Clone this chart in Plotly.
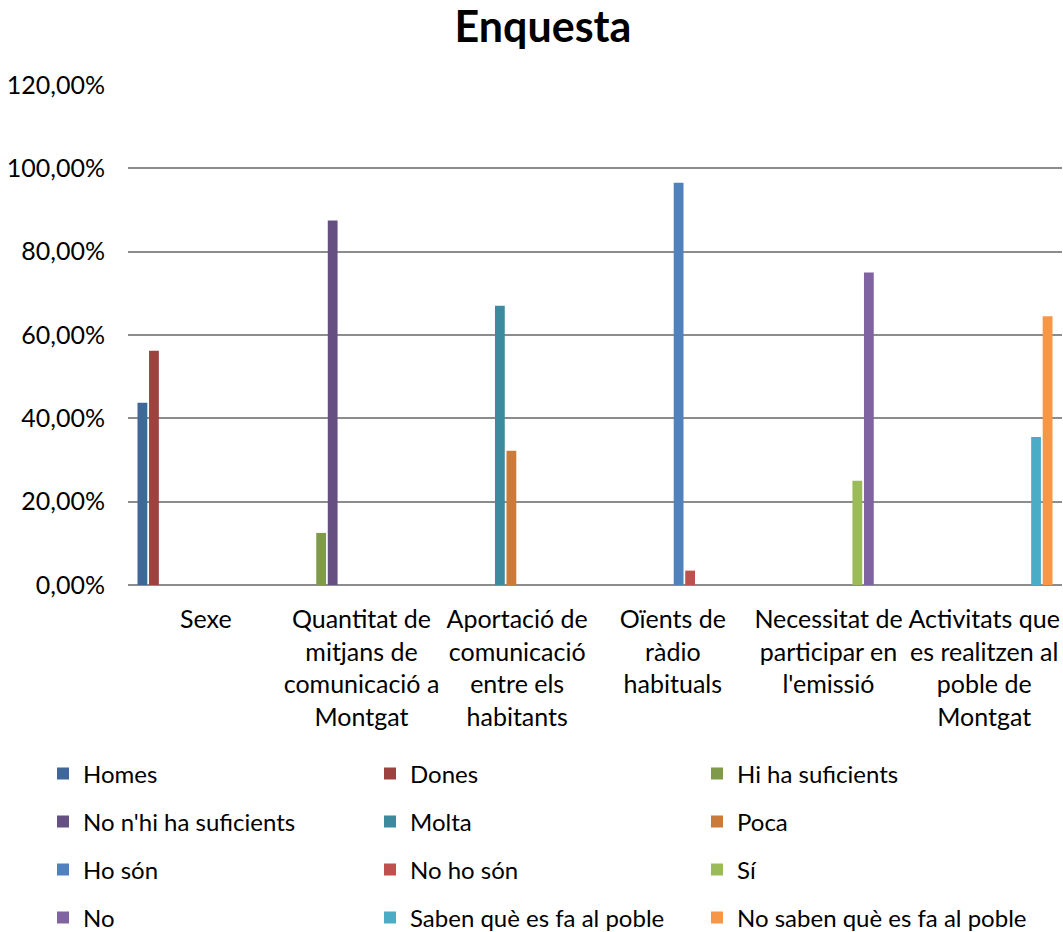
import plotly.graph_objects as go

categories = ["Sexe",
              "Quantitat de<br>mitjans de<br>comunicació a<br>Montgat",
              "Aportació de<br>comunicació<br>entre els<br>habitants",
              "Oïents de<br>ràdio<br>habituals",
              "Necessitat de<br>participar en<br>l'emissió",
              "Activitats que<br>es realitzen al<br>poble de<br>Montgat"]

series_names = ["Homes", "Dones", "Hi ha suficients", "No n'hi ha suficients",
                "Molta", "Poca", "Ho són", "No ho són", "Sí", "No",
                "Saben què es fa al poble", "No saben què es fa al poble"]

# value of each series, and which category it belongs to
series_values = [0.4375, 0.5625, 0.125, 0.875, 0.67, 0.322, 0.9655, 0.0345,
                 0.25, 0.75, 0.355, 0.645]
series_category = [0, 0, 1, 1, 2, 2, 3, 3, 4, 4, 5, 5]

colors = ["#3F6797", "#9D423F", "#7F9A48", "#665082", "#3C8A9E", "#CB7B39",
          "#4F81BD", "#C0504D", "#9BBB59", "#8064A2", "#4BACC6", "#F79646"]

FONT = "Lato"
W, H = 1063, 932
L, R, T = 128, 1, 85
ZERO_Y = 585
PLOT_H = ZERO_Y - T
B = H - ZERO_Y

fig = go.Figure()
legend_ids = ["legend", "legend2", "legend3", "legend4"]
for i, name in enumerate(series_names):
    y = [series_values[i] if c == series_category[i] else None
         for c in range(len(categories))]
    extra = {}
    if i % 3 == 2:
        extra["legendwidth"] = 300   # last entry of each row: room for long text
    fig.add_trace(go.Bar(x=categories, y=y, name=name,
                         marker=dict(color=colors[i], line=dict(width=0)),
                         legend=legend_ids[i // 3], **extra))

row_y = [774, 822, 870, 918]
plot_w = W - L - R
legend_layouts = {}
for k, lid in enumerate(legend_ids):
    legend_layouts[lid] = dict(
        orientation="h", x=(43 - L) / plot_w, xanchor="left",
        y=(ZERO_Y - row_y[k]) / PLOT_H, yanchor="middle",
        entrywidth=282, entrywidthmode="pixels",
        font=dict(family=FONT, size=24, color="#000000"),
        bgcolor="rgba(0,0,0,0)", itemclick=False, traceorder="normal")

fig.update_layout(
    width=W, height=H,
    margin=dict(l=L, r=R, t=T, b=B, autoexpand=False),
    paper_bgcolor="white", plot_bgcolor="white",
    barmode="group", bargap=0.111, bargroupgap=0.15,
    separators=",.",
    title=dict(text="<b>Enquesta</b>", x=543 / W, xanchor="center",
               y=1 - 27 / H, yanchor="middle",
               font=dict(family=FONT, size=43, color="#000000")),
    font=dict(family=FONT, size=25, color="#000000"),
    xaxis=dict(showgrid=False, showline=False, ticks="", zeroline=False,
               tickfont=dict(family=FONT, size=25, color="#000000"),
               tickangle=0, ticklabelstandoff=17, fixedrange=True),
    yaxis=dict(range=[0, 1.2000001], tick0=0, dtick=0.2, tickformat=".2%",
               showgrid=True, gridcolor="#8C8C8C", gridwidth=2,
               zeroline=True, zerolinecolor="#8C8C8C", zerolinewidth=2,
               showline=False, ticks="", ticklabelstandoff=22,
               tickfont=dict(family=FONT, size=25, color="#000000"),
               fixedrange=True),
    showlegend=True,
    **legend_layouts,
)

fig.write_html("out.html",
               config={"displayModeBar": False},
               post_script="document.body.style.margin='0';"
                           "document.body.style.overflow='hidden';")
